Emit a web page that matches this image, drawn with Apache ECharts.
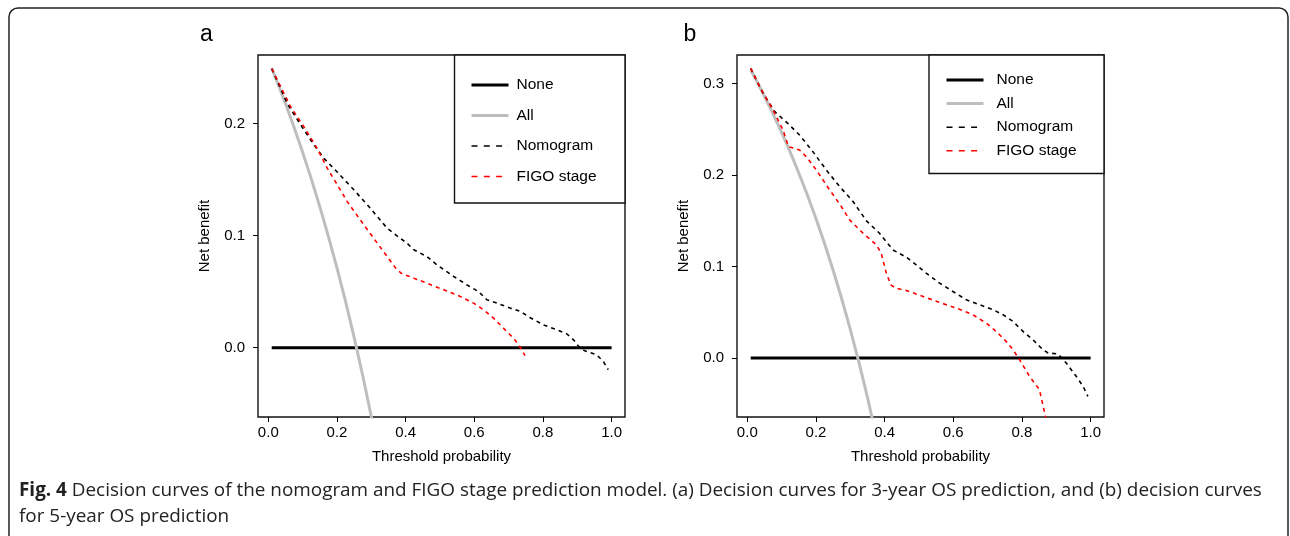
<!DOCTYPE html>
<html>
<head>
<meta charset="utf-8">
<script src="https://cdn.jsdelivr.net/npm/echarts@6/dist/echarts.min.js"></script>
<style>
html,body{margin:0;padding:0;background:#fff;}
#c{width:1290px;height:536px;}
</style>
</head>
<body>
<div id="c"></div>
<script>
// ---------- DATA ----------
const xTicks = [0, 0.2, 0.4, 0.6, 0.8, 1.0];
const aYTicks = [0, 0.1, 0.2];
const bYTicks = [0, 0.1, 0.2, 0.3];
const seriesNames = ['None', 'All', 'Nomogram', 'FIGO stage'];

// Panel a (3-year OS)
const aNoneX = [0.01, 1.0];
const aNoneY = [0, 0];
const aAllX = [0.01,0.03,0.05,0.075,0.1,0.125,0.15,0.175,0.2,0.225,0.25,0.275,0.3,0.32];
const aAllY = [0.2495,0.2340,0.2179,0.1968,0.1744,0.1509,0.1259,0.0994,0.0712,0.0413,0.0093,-0.0248,-0.0614,-0.0927];
const aNomoX = [0.01,0.055,0.094,0.133,0.162,0.2,0.249,0.297,0.346,0.375,0.404,0.424,0.462,0.491,0.54,0.578,0.612,0.637,0.666,0.704,0.734,0.762,0.801,0.84,0.869,0.889,0.908,0.922,0.956,0.976,0.99];
const aNomoY = [0.249,0.218,0.199,0.181,0.169,0.157,0.141,0.1245,0.1067,0.0998,0.0933,0.0874,0.0814,0.074,0.0636,0.0562,0.0502,0.0428,0.0398,0.0354,0.0324,0.027,0.0205,0.016,0.0125,0.0071,-0.0003,-0.0027,-0.0062,-0.0122,-0.0196];
const aFigoX = [0.01,0.036,0.065,0.104,0.142,0.172,0.2,0.23,0.268,0.307,0.346,0.375,0.39,0.424,0.462,0.511,0.559,0.598,0.627,0.656,0.685,0.714,0.729,0.748];
const aFigoY = [0.249,0.233,0.215,0.197,0.178,0.1600,0.1460,0.1304,0.114,0.0977,0.0814,0.0695,0.066,0.0621,0.0576,0.0517,0.0458,0.0398,0.0339,0.0264,0.0175,0.0086,0.0027,-0.0071];

// Panel b (5-year OS)
const bNoneX = [0.01, 1.0];
const bNoneY = [0, 0];
const bAllX = [0.01,0.03,0.05,0.075,0.1,0.125,0.15,0.175,0.2,0.225,0.25,0.275,0.3,0.325,0.35,0.375];
const bAllY = [0.3152,0.3010,0.2863,0.2670,0.2467,0.2251,0.2024,0.1782,0.1525,0.1252,0.0960,0.0648,0.0314,-0.0044,-0.0431,-0.0848];
const bNomoX = [0.01,0.046,0.08,0.118,0.152,0.191,0.23,0.269,0.308,0.347,0.385,0.424,0.463,0.492,0.521,0.56,0.599,0.638,0.677,0.716,0.745,0.774,0.803,0.832,0.861,0.876,0.905,0.929,0.958,0.978,0.992];
const bNomoY = [0.3167,0.2894,0.2694,0.2566,0.2439,0.2257,0.2057,0.1875,0.1711,0.1500,0.1365,0.1183,0.1103,0.1019,0.0928,0.0819,0.0728,0.0637,0.0582,0.0528,0.0473,0.0400,0.0291,0.0200,0.0091,0.0055,0.0044,-0.0055,-0.0200,-0.0309,-0.0419];
const bFigoX = [0.01,0.036,0.075,0.104,0.12,0.152,0.172,0.201,0.24,0.274,0.298,0.337,0.376,0.39,0.405,0.418,0.432,0.463,0.512,0.56,0.609,0.657,0.696,0.725,0.754,0.774,0.793,0.822,0.851,0.875];
const bFigoY = [0.3167,0.2967,0.2712,0.2494,0.2312,0.2276,0.2202,0.2057,0.1838,0.1656,0.1511,0.1365,0.1238,0.1147,0.0928,0.0801,0.0764,0.0739,0.0673,0.0608,0.0546,0.0473,0.0382,0.0291,0.0182,0.0091,-0.0018,-0.0200,-0.0346,-0.0750];

const captionBold = 'Fig. 4';
const captionLine1 = ' Decision curves of the nomogram and FIGO stage prediction model. (a) Decision curves for 3-year OS prediction, and (b) decision curves';
const captionLine2 = 'for 5-year OS prediction';

// ---------- BUILD ----------
const zip = (xs, ys) => xs.map((x, i) => [x, ys[i]]);
const FONT = '"Liberation Sans", Arial, sans-serif';
const CAPFONT = '"Open Sans", sans-serif';
const styles = {
  'None': {color: '#000000', width: 3, type: 'solid'},
  'All': {color: '#bebebe', width: 3, type: 'solid'},
  'Nomogram': {color: '#000000', width: 1.6, type: [4, 4]},
  'FIGO stage': {color: '#ff0000', width: 1.6, type: [4, 4]}
};
const legendStyles = {
  'None': {color: '#000000', width: 3, type: 'solid'},
  'All': {color: '#bebebe', width: 3, type: 'solid'},
  'Nomogram': {color: '#000000', width: 1.6, type: [6, 6.3]},
  'FIGO stage': {color: '#ff0000', width: 1.6, type: [6, 6.3]}
};

function mkSeries(idx, name, xs, ys) {
  const s = styles[name];
  return {
    type: 'line', name: name, xAxisIndex: idx, yAxisIndex: idx,
    data: zip(xs, ys), showSymbol: false, symbol: 'none', smooth: false,
    clip: true, animation: false, silent: true,
    lineStyle: {color: s.color, width: s.width, type: s.type, cap: 'butt'},
    itemStyle: {color: s.color},
    z: 2
  };
}

function mkXAxis(idx) {
  return {
    type: 'value', gridIndex: idx, min: -0.03, max: 1.039,
    axisLine: {show: false, onZero: false},
    axisTick: {show: true, customValues: xTicks, length: 5, lineStyle: {color: '#000', width: 1}},
    axisLabel: {customValues: xTicks, formatter: v => v.toFixed(1), fontSize: 15, fontFamily: FONT, color: '#000', margin: 8},
    splitLine: {show: false},
    name: 'Threshold probability', nameLocation: 'middle', nameGap: 32,
    nameTextStyle: {fontSize: 15, fontFamily: FONT, color: '#000'}
  };
}
function mkYAxis(idx, min, max, ticks) {
  return {
    type: 'value', gridIndex: idx, min: min, max: max,
    axisLine: {show: false, onZero: false},
    axisTick: {show: true, customValues: ticks, length: 5, lineStyle: {color: '#000', width: 1}},
    axisLabel: {customValues: ticks, formatter: v => v.toFixed(1), fontSize: 15, fontFamily: FONT, color: '#000', margin: 13},
    splitLine: {show: false},
    name: 'Net benefit', nameLocation: 'middle', nameGap: 46,
    nameTextStyle: {fontSize: 15, fontFamily: FONT, color: '#000'}
  };
}
function mkLegend(left, top, gap, textPad) {
  return {
    show: true, orient: 'vertical', left: left, top: top, padding: 0,
    itemWidth: 37, itemHeight: 14, itemGap: gap,
    selectedMode: false,
    textStyle: {fontSize: 15.5, fontFamily: FONT, color: '#000', padding: [0, 0, 0, textPad]},
    data: seriesNames.map(n => ({
      name: n,
      itemStyle: {opacity: 0},
      lineStyle: {color: legendStyles[n].color, width: legendStyles[n].width, type: legendStyles[n].type, opacity: 1}
    }))
  };
}

const option = {
  animation: false,
  backgroundColor: '#ffffff',
  grid: [
    {left: 258, top: 55, width: 367, height: 362, show: true, borderColor: '#111', borderWidth: 1.4, backgroundColor: 'transparent', containLabel: false},
    {left: 737, top: 55, width: 367, height: 362, show: true, borderColor: '#111', borderWidth: 1.4, backgroundColor: 'transparent', containLabel: false}
  ],
  xAxis: [mkXAxis(0), mkXAxis(1)],
  yAxis: [mkYAxis(0, -0.0618, 0.2612, aYTicks), mkYAxis(1, -0.0645, 0.3314, bYTicks)],
  legend: [mkLegend(470, 77, 14.5, 3), mkLegend(945, 72, 7.6, 8)],
  series: [
    mkSeries(0, 'None', aNoneX, aNoneY),
    mkSeries(0, 'All', aAllX, aAllY),
    mkSeries(0, 'Nomogram', aNomoX, aNomoY),
    mkSeries(0, 'FIGO stage', aFigoX, aFigoY),
    mkSeries(1, 'None', bNoneX, bNoneY),
    mkSeries(1, 'All', bAllX, bAllY),
    mkSeries(1, 'Nomogram', bNomoX, bNomoY),
    mkSeries(1, 'FIGO stage', bFigoX, bFigoY)
  ],
  graphic: [
    {type: 'rect', shape: {x: 9, y: 8, width: 1279, height: 545, r: 9}, style: {fill: 'none', stroke: '#222', lineWidth: 1.5}, silent: true, z: 0},
    {type: 'rect', shape: {x: 454.5, y: 55, width: 170.5, height: 148}, style: {fill: '#fff', stroke: '#111', lineWidth: 1.4}, silent: true, z: 1},
    {type: 'rect', shape: {x: 929, y: 55, width: 175, height: 118.5}, style: {fill: '#fff', stroke: '#111', lineWidth: 1.4}, silent: true, z: 1},
    {type: 'text', x: 206.5, y: 35, style: {text: 'a', fontSize: 23, fontFamily: FONT, fill: '#000', align: 'center', verticalAlign: 'middle'}, silent: true},
    {type: 'text', x: 690, y: 35, style: {text: 'b', fontSize: 23, fontFamily: FONT, fill: '#000', align: 'center', verticalAlign: 'middle'}, silent: true},
    {type: 'text', x: 19, y: 491, style: {
      text: '{b|' + captionBold + '}{n|' + captionLine1 + '}',
      verticalAlign: 'middle',
      rich: {
        b: {fontWeight: 'bold', fontSize: 18.9, fontFamily: CAPFONT, fill: '#222'},
        n: {fontSize: 18.9, fontFamily: CAPFONT, fill: '#222'}
      }
    }, silent: true},
    {type: 'text', x: 19, y: 517, style: {text: captionLine2, fontSize: 18.9, fontFamily: CAPFONT, fill: '#222', verticalAlign: 'middle'}, silent: true}
  ]
};

const chart = echarts.init(document.getElementById('c'), null, {renderer: 'canvas'});
chart.setOption(option);
</script>
</body>
</html>
